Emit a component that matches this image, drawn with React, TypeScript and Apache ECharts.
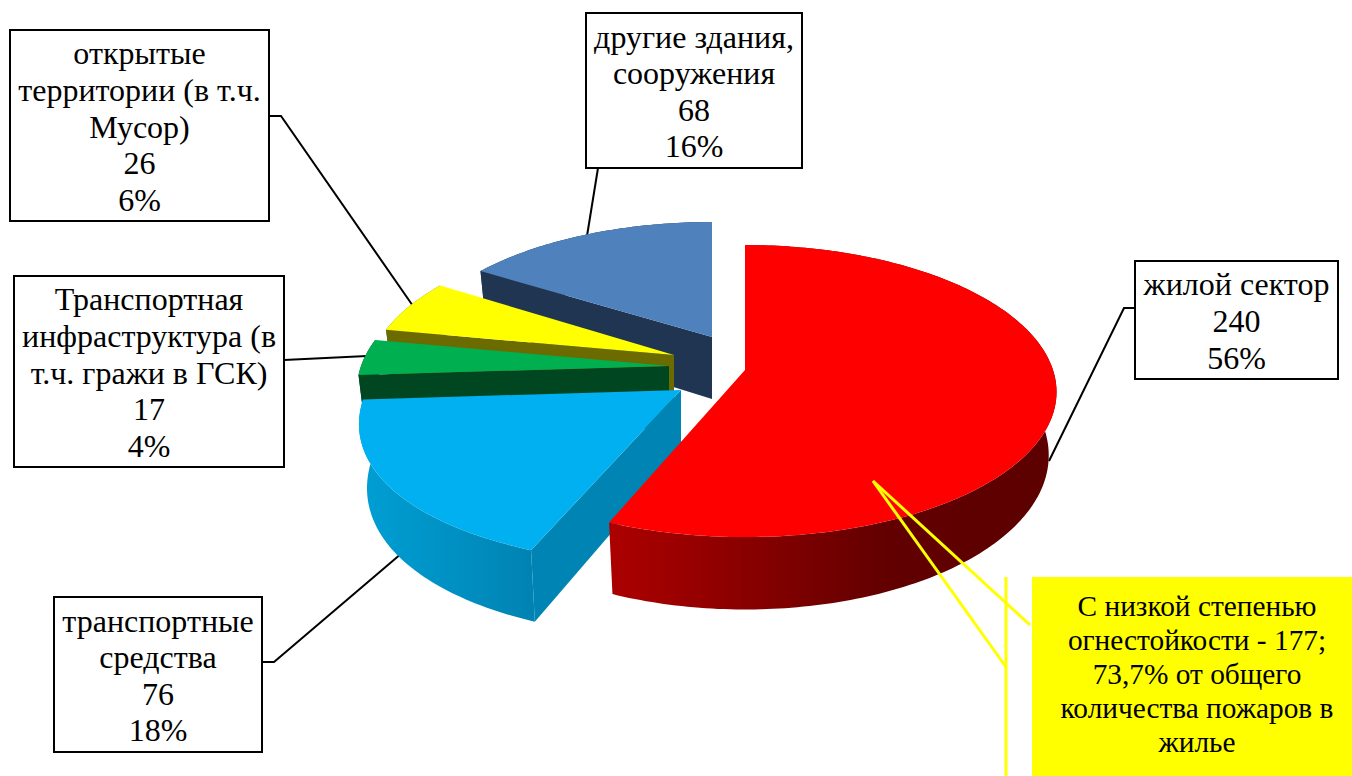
import React, { useEffect, useRef } from "react";
import * as echarts from "echarts";

// ---- data ----
const categories = [
  "жилой сектор",
  "транспортные\nсредства",
  "Транспортная\nинфраструктура (в\nт.ч. гражи в ГСК)",
  "открытые\nтерритории (в т.ч.\nМусор)",
  "другие здания,\nсооружения",
];
const values = [240, 76, 17, 26, 68];
const percents = ["56%", "18%", "4%", "6%", "16%"];
const calloutText =
  "С низкой степенью\nогнестойкости - 177;\n73,7% от общего\nколичества пожаров в\nжилье";

// ---- styles / layout ----
const topColors = ["#FF0000", "#00B0F0", "#00B050", "#FFFF00", "#4F81BD"];
const wallColors = ["#6A0000", "#0084B4", "#004620", "#6B6B00", "#1F3552"];
const rimStops: [number, string][][] = [
  [[0, "#AC0000"], [0.3, "#8A0000"], [0.62, "#620000"], [1, "#5C0000"]],
  [[0, "#009FD4"], [0.55, "#0090C2"], [1, "#0082B2"]],
  [[0, "#004620"], [1, "#004620"]],
  [[0, "#6B6B00"], [1, "#6B6B00"]],
  [[0, "#1F3552"], [1, "#1F3552"]],
];
const apexX = [745, 681, 669, 674, 712];
const apexY = [370, 390, 366, 355, 337];
const scaleX = [1, 1.02, 1, 0.98, 0.97];
const scaleY = [1, 1.05, 1, 0.97, 0.92];
const perspX = [0.15, 0.22, 0.16, 0.16, 0.16];
const paintOrder = [4, 3, 2, 1, 0];
const RX = 308, RY = 143, PY = 0.144, DEPTH = 62, BOTTOM_SHRINK = 0.975;

const boxes = [
  { x: 1135, y: 261, w: 203, h: 118 },
  { x: 54, y: 597, w: 208, h: 155 },
  { x: 14, y: 276, w: 270, h: 191 },
  { x: 10, y: 30, w: 259, h: 191 },
  { x: 586, y: 13, w: 216, h: 155 },
];
const leaders = [
  [[1135, 308], [1124, 308], [1049, 461]],
  [[262, 662], [274, 662], [402, 553]],
  [[284, 360], [367, 356]],
  [[269, 116], [281, 116], [413, 306]],
  [[598, 168], [587, 236]],
];
const FONT = '"Liberation Serif", "Times New Roman", serif';

const total = values.reduce((a, b) => a + b, 0);
const startDeg: number[] = [];
values.reduce((acc, v, i) => {
  startDeg[i] = (acc / total) * 360;
  return acc + v;
}, 0);

function ringPoint(i: number, deg: number, bottom: boolean): [number, number] {
  const t = (deg * Math.PI) / 180;
  const X = Math.sin(t), Y = Math.cos(t);
  const sx = 1 / (1 + perspX[i] * Y), sy = 1 / (1 + PY * Y);
  const dx = RX * scaleX[i] * X * sx * (bottom ? BOTTOM_SHRINK : 1);
  const dy = -RY * scaleY[i] * Y * sy + (bottom ? DEPTH * sy : 0);
  return [apexX[i] + dx, apexY[i] + dy];
}

function renderSlice(_params: any, api: any) {
  const i = api.value(0) as number;
  const a0 = startDeg[i];
  const a1 = a0 + (values[i] / total) * 360;
  const top: [number, number][] = [];
  const bot: [number, number][] = [];
  const steps = Math.max(8, Math.ceil(a1 - a0));
  for (let s = 0; s <= steps; s++) {
    const d = a0 + ((a1 - a0) * s) / steps;
    top.push(ringPoint(i, d, false));
    bot.push(ringPoint(i, d, true));
  }
  const ax = apexX[i], ay = apexY[i];
  const rimFill = {
    type: "linear", x: 0, y: 0, x2: 1, y2: 0,
    colorStops: rimStops[i].map(([offset, color]) => ({ offset, color })),
  };
  return {
    type: "group",
    children: [
      { type: "polygon", shape: { points: [...top, ...bot.slice().reverse()] }, style: { fill: rimFill } },
      {
        type: "polygon",
        shape: { points: [[ax, ay], top[0], bot[0], [ax, ay + DEPTH]] },
        style: { fill: wallColors[i] },
      },
      { type: "polygon", shape: { points: [[ax, ay], ...top] }, style: { fill: topColors[i] } },
    ],
  };
}

export default function App() {
  const ref = useRef<HTMLDivElement>(null);
  useEffect(() => {
    const chart = echarts.init(ref.current!, null, { renderer: "svg" });
    const graphic: any[] = [];
    boxes.forEach((b, i) => {
      graphic.push({
        type: "polyline", z: 1, silent: true,
        shape: { points: leaders[i] },
        style: { stroke: "#000", lineWidth: 2, fill: "none" },
      });
      graphic.push({
        type: "rect", z: 10, silent: true,
        shape: { x: b.x, y: b.y, width: b.w, height: b.h },
        style: { fill: "#fff", stroke: "#000", lineWidth: 2 },
      });
      graphic.push({
        type: "text", z: 11, silent: true,
        x: b.x + b.w / 2, y: b.y + b.h / 2 + 1,
        style: {
          text: `${categories[i]}\n${values[i]}\n${percents[i]}`,
          font: `32px ${FONT}`, lineHeight: 36.6, fill: "#000",
          align: "center", verticalAlign: "middle",
        },
      });
    });
    graphic.push(
      { type: "line", z: 12, silent: true, shape: { x1: 873, y1: 481, x2: 1030, y2: 625 }, style: { stroke: "#FFFF00", lineWidth: 3 } },
      { type: "line", z: 12, silent: true, shape: { x1: 873, y1: 481, x2: 1006, y2: 667 }, style: { stroke: "#FFFF00", lineWidth: 3 } },
      { type: "line", z: 12, silent: true, shape: { x1: 1006, y1: 577, x2: 1006, y2: 776 }, style: { stroke: "#FFFF00", lineWidth: 3 } },
      { type: "rect", z: 12, silent: true, shape: { x: 1032, y: 577, width: 320, height: 199 }, style: { fill: "#FFFF00" } },
      {
        type: "text", z: 13, silent: true, x: 1197, y: 674,
        style: {
          text: calloutText, font: `29.33px ${FONT}`, lineHeight: 33.8, fill: "#000",
          align: "center", verticalAlign: "middle",
        },
      }
    );
    chart.setOption({
      animation: false,
      backgroundColor: "#fff",
      graphic,
      series: [
        {
          type: "custom",
          coordinateSystem: "none",
          silent: true,
          z: 5,
          renderItem: renderSlice,
          data: paintOrder.map((i) => ({ name: categories[i], value: [i, values[i]] })),
        },
      ],
    });
    return () => chart.dispose();
  }, []);
  return <div ref={ref} style={{ position: "absolute", left: 0, top: 0, width: 1352, height: 776 }} />;
}
